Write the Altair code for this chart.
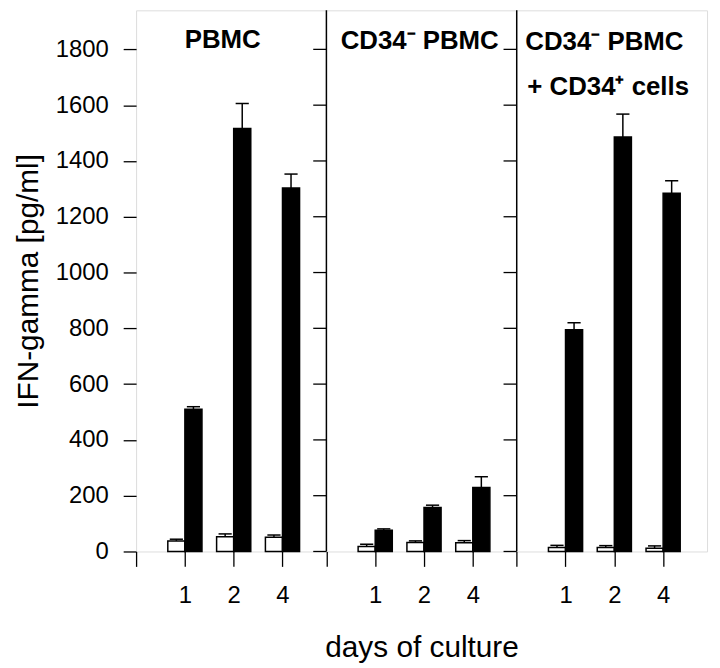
import json
import altair as alt
import pandas as pd

# ---------------- data ----------------
panels = ["PBMC", "CD34⁻ PBMC", "CD34⁻ PBMC + CD34⁺ cells"]
days = ["1", "2", "4"]
groups = ["control", "stimulated"]

control_vals = [[38, 53, 51], [18, 32, 31], [14, 14, 12]]
control_err = [[6, 10, 8], [8, 6, 8], [8, 7, 8]]
stim_vals = [[510, 1516, 1303], [76, 158, 229], [795, 1486, 1284]]
stim_err = [[9, 90, 50], [5, 8, 39], [25, 82, 45]]

y_ticks = [0, 200, 400, 600, 800, 1000, 1200, 1400, 1600, 1800]

# ---------------- layout constants ----------------
PANEL_SPAN = 3.9          # x units per panel
XMAX = 3 * PANEL_SPAN     # whole x range
YMAX = 1940
BAR_W = 0.35
CAP_HALF = 0.135
W, H = 575, 545
FONT = "Liberation Sans"

rows = []
for pi in range(len(panels)):
    for si, d in enumerate(days):
        rows.append(dict(pi=pi, slot=si + 1, day=d, group="control",
                         value=control_vals[pi][si], err=control_err[pi][si]))
        rows.append(dict(pi=pi, slot=si + 1, day=d, group="stimulated",
                         value=stim_vals[pi][si], err=stim_err[pi][si]))
df = pd.DataFrame(rows)

tick_pos = [round(p * PANEL_SPAN + k, 2) for p in range(len(panels)) for k in range(4)]
label_arr = json.dumps([""] + days)
mod = int(round(PANEL_SPAN * 10))
label_expr = f"{label_arr}[round(datum.value*10) % {mod} / 10]"

xscale = alt.Scale(domain=[0, XMAX], nice=False, zero=False)
yscale = alt.Scale(domain=[0, YMAX], nice=False)

xaxis = alt.Axis(values=tick_pos, labelExpr=label_expr, tickSize=15, tickWidth=1.3,
                 tickColor="black", labelPadding=17, labelFontSize=24,
                 labelColor="black", labelFont=FONT, domain=False, grid=False,
                 title="days of culture", titleFontSize=30, titleFontWeight="normal",
                 titleFont=FONT, titleColor="black", titlePadding=26)
yaxis = alt.Axis(values=y_ticks, format="d", tickSize=13, tickWidth=1.3, tickColor="black",
                 labelPadding=15, labelFontSize=24, labelColor="black", labelFont=FONT,
                 domain=False, grid=False, title="IFN-gamma [pg/ml]", titleFontSize=30,
                 titleFontWeight="normal", titleFont=FONT, titleColor="black",
                 titlePadding=12)

base = alt.Chart(df).transform_calculate(
    pos=f"datum.pi * {PANEL_SPAN} + datum.slot",
    zero="0",
).transform_calculate(
    x0=f"datum.group == 'control' ? datum.pos - {BAR_W} : datum.pos",
    x1=f"datum.group == 'control' ? datum.pos : datum.pos + {BAR_W}",
).transform_calculate(
    xc="(datum.x0 + datum.x1) / 2",
    top="datum.value + datum.err",
).transform_calculate(
    c0=f"datum.xc - {CAP_HALF}",
    c1=f"datum.xc + {CAP_HALF}",
)

bars = base.mark_bar(stroke="black", strokeWidth=1.5).encode(
    x=alt.X("x0:Q", scale=xscale, axis=xaxis),
    x2="x1:Q",
    y=alt.Y("value:Q", scale=yscale, axis=yaxis),
    y2="zero:Q",
    fill=alt.Fill("group:N", scale=alt.Scale(domain=groups, range=["white", "black"]),
                  legend=None),
)

err_line = base.mark_rule(color="black", strokeWidth=1.5).encode(
    x=alt.X("xc:Q", scale=xscale),
    y=alt.Y("value:Q", scale=yscale),
    y2="top:Q",
)
err_cap = base.mark_rule(color="black", strokeWidth=1.5).encode(
    x=alt.X("c0:Q", scale=xscale),
    x2="c1:Q",
    y=alt.Y("top:Q", scale=yscale),
)

div_df = pd.DataFrame({"xd": [PANEL_SPAN * k for k in range(1, len(panels))]})
dividers = alt.Chart(div_df).mark_rule(color="black", strokeWidth=1.5).encode(
    x=alt.X("xd:Q", scale=xscale),
)

dtick_df = pd.DataFrame([{"xd": PANEL_SPAN * k, "yv": v}
                         for k in range(1, len(panels)) for v in y_ticks])
div_ticks = alt.Chart(dtick_df).transform_calculate(
    xs="datum.xd - 0.27"
).mark_rule(color="black", strokeWidth=1.3).encode(
    x=alt.X("xs:Q", scale=xscale),
    x2="xd:Q",
    y=alt.Y("yv:Q", scale=yscale),
)

def label(txt, px, py):
    return alt.Chart(div_df.head(1)).mark_text(
        align="left", baseline="alphabetic", font=FONT, fontSize=26,
        fontWeight="bold", color="black",
    ).encode(x=alt.value(px), y=alt.value(py), text=alt.value(txt))

titles = [
    label("PBMC", 49, 38),
    label("CD34⁻ PBMC", 206, 39),
    label("CD34⁻ PBMC", 392, 40),
    label("+ CD34⁺ cells", 394, 85),
]

chart = alt.layer(bars, err_line, err_cap, dividers, div_ticks, *titles).properties(
    width=W, height=H,
    autosize=alt.AutoSizeParams(type="none"),
    padding={"left": 129, "top": 0, "right": 5, "bottom": 115},
).configure_view(
    stroke="black", strokeWidth=1.5
).configure(font=FONT, background="white")

chart.save("out.html", embed_options={"renderer": "svg", "actions": False})
